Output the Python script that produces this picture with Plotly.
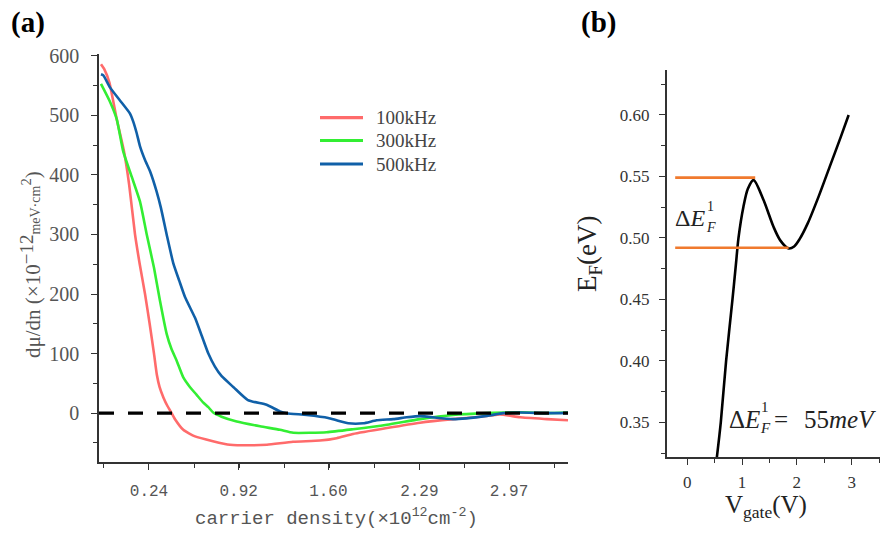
import plotly.graph_objects as go

W, H = 880, 533

# ---------------- Panel (a) data ----------------
series_names = ["100kHz", "300kHz", "500kHz"]
series_colors = ["#FF6B6B", "#33EE33", "#1060A8"]

red_x = [-0.124, -0.10, -0.06, -0.005, 0.05, 0.09, 0.134, 0.17, 0.21, 0.245, 0.278, 0.30, 0.32, 0.35,
         0.38, 0.412, 0.44, 0.50, 0.589, 0.725, 0.854, 1.0, 1.135, 1.332, 1.536, 1.663, 1.787,
         2.044, 2.295, 2.545, 2.75, 2.901, 3.053, 3.257, 3.417]
red_y = [586, 578, 555, 494, 440, 383, 300, 250, 200, 150, 100, 64, 44, 26,
         12, 0, -11, -28, -39, -47, -53, -54, -53, -48, -46, -42, -35,
         -25, -16, -10, -6, -2, -7, -10, -12]

green_x = [-0.124, -0.06, -0.005, 0.045, 0.109, 0.172, 0.223, 0.278, 0.323, 0.374, 0.41, 0.45, 0.50,
           0.55, 0.60, 0.65, 0.69, 0.727, 0.79, 0.905, 1.082, 1.233, 1.334, 1.587, 1.787, 2.044,
           2.295, 2.545, 2.803, 3.053, 3.257, 3.417]
green_y = [553, 525, 494, 439, 397, 355, 300, 244, 189, 133, 108, 88, 60,
           44, 31, 18, 10, 1, -6, -14, -22, -28, -33, -32, -27, -19.5,
           -10, -3, 0, 1.5, 0, 1]

blue_x = [-0.124, -0.106, -0.056, 0.02, 0.096, 0.12, 0.147, 0.172, 0.21, 0.25, 0.298, 0.33, 0.374,
          0.424, 0.47, 0.513, 0.589, 0.64, 0.69, 0.74, 0.791, 0.879, 0.99, 1.132, 1.233, 1.284,
          1.436, 1.599, 1.663, 1.751, 1.865, 1.966, 2.092, 2.194, 2.295, 2.545, 2.803, 2.924,
          3.053, 3.257, 3.417]
blue_y = [569, 567, 547, 525, 503, 490, 470, 448, 425, 405, 372, 345, 300,
          252, 222, 195, 160, 130, 100, 78, 62, 44, 22, 14, 3, 0,
          -3, -8, -12, -17, -17, -12, -10, -7, -5, -10, -4.5, 0,
          1, 0, 0.5]

xa_ticklabels = ["0.24", "0.92", "1.60", "2.29", "2.97"]
ya_ticks = [0, 100, 200, 300, 400, 500, 600]

# ---------------- Panel (b) data ----------------
vgate = [0.54, 0.612, 0.709, 0.825, 0.887, 0.935, 1.026, 1.106, 1.21, 1.39, 1.574, 1.697, 1.85,
         1.95, 2.05, 2.2, 2.4, 2.6, 2.8, 2.945]
ef = [0.3215, 0.35, 0.40, 0.45, 0.478, 0.50, 0.5256, 0.54, 0.547, 0.531, 0.509, 0.498, 0.4914,
      0.493, 0.499, 0.512, 0.534, 0.558, 0.582, 0.60]
level_y = [0.549, 0.492]
level_x0 = [-0.22, -0.22]
level_x1 = [1.24, 1.85]
xb_ticks = [0, 1, 2, 3]
yb_ticks = [0.35, 0.40, 0.45, 0.50, 0.55, 0.60]

fig = go.Figure()

for name, col, xs, ys in zip(series_names, series_colors,
                             [red_x, green_x, blue_x], [red_y, green_y, blue_y]):
    fig.add_trace(go.Scatter(x=xs, y=ys, mode="lines", name=name,
                             line=dict(color=col, width=2.6, shape="spline", smoothing=0.5),
                             xaxis="x", yaxis="y", showlegend=False))

fig.add_trace(go.Scatter(x=vgate, y=ef, mode="lines",
                         line=dict(color="black", width=2.6, shape="spline", smoothing=0.8),
                         showlegend=False, xaxis="x2", yaxis="y2"))
for ly, lx0, lx1 in zip(level_y, level_x0, level_x1):
    fig.add_trace(go.Scatter(x=[lx0, lx1], y=[ly, ly], mode="lines",
                             line=dict(color="#F07A2E", width=2.6),
                             showlegend=False, xaxis="x2", yaxis="y2"))

# zero dashed line
fig.add_shape(type="line", xref="x domain", yref="y", x0=0, x1=1, y0=0, y1=0,
              line=dict(color="black", width=3.2, dash="15px,14px"))


def px_x(p):
    return p / W


def px_y(p):
    return (H - p) / H


# manual legend (sample lines + labels)
leg_rows = [117.7, 140.5, 164]
for name, col, ry in zip(series_names, series_colors, leg_rows):
    fig.add_shape(type="line", xref="paper", yref="paper", x0=px_x(320), x1=px_x(363),
                  y0=px_y(ry), y1=px_y(ry), line=dict(color=col, width=3.2))
    fig.add_annotation(xref="paper", yref="paper", x=px_x(374), y=px_y(ry), xanchor="left",
                       yanchor="middle", showarrow=False, text=name,
                       font=dict(family="Liberation Serif", size=19, color="#444"))

axis_common = dict(showgrid=False, zeroline=False, showline=True, linecolor="#333",
                   linewidth=1.6, ticks="outside", ticklen=6, tickwidth=1.4, tickcolor="#333",
                   automargin=False)

fig.update_layout(
    width=W, height=H, margin=dict(l=0, r=0, t=0, b=0),
    plot_bgcolor="white", paper_bgcolor="white",
    xaxis=dict(domain=[px_x(99), px_x(568)], range=[-0.139, 3.417], anchor="y",
               tickvals=[float(t) for t in xa_ticklabels], ticktext=xa_ticklabels,
               tickfont=dict(family="Liberation Mono", size=16, color="#555"),
               minor=dict(tick0=0.24 - 0.3413, dtick=0.3413, ticks="outside", ticklen=4,
                          tickwidth=1.3, tickcolor="#333"),
               ticklabelstandoff=7, **axis_common),
    yaxis=dict(domain=[px_y(462), px_y(54)], range=[-82, 603], anchor="x",
               tickvals=ya_ticks,
               tickfont=dict(family="Liberation Serif", size=20, color="#555"),
               minor=dict(tick0=-50, dtick=100, ticks="outside", ticklen=4,
                          tickwidth=1.3, tickcolor="#333"),
               ticklabelstandoff=8, **axis_common),
    xaxis2=dict(domain=[px_x(666.7), 1.0], range=[-0.375, 3.517], anchor="y2",
                tickvals=xb_ticks,
                tickfont=dict(family="Liberation Serif", size=17, color="#333"),
                minor=dict(dtick=0.5, ticks="outside", ticklen=4, tickwidth=1.3, tickcolor="#333"),
                ticklabelstandoff=2, **axis_common),
    yaxis2=dict(domain=[px_y(457.3), px_y(70)], range=[0.3215, 0.6366], anchor="x2",
                tickvals=yb_ticks, tickformat=".2f",
                tickfont=dict(family="Liberation Serif", size=17, color="#333"),
                minor=dict(dtick=0.025, tick0=0.325, ticks="outside", ticklen=4,
                           tickwidth=1.3, tickcolor="#333"),
                ticklabelstandoff=6, **axis_common),
    showlegend=False,
)

serif = "Liberation Serif"
ann = [
    dict(text="<b>(a)</b>", x=px_x(28), y=px_y(22), font=dict(family=serif, size=29, color="black")),
    dict(text="<b>(b)</b>", x=px_x(598), y=px_y(23), font=dict(family=serif, size=29, color="black")),
    dict(text="dμ/dn (×10<span style='baseline-shift:35%;font-size:19px'>−12</span>"
              "<span style='font-size:14px'>meV·cm</span><sup>2</sup>)",
         x=px_x(30), y=px_y(265), textangle=-90, font=dict(family=serif, size=21, color="#555")),
    dict(text="carrier density(×10<sup>12</sup>cm<sup>-2</sup>)", x=px_x(336), y=px_y(517),
         font=dict(family="Liberation Mono", size=19, color="#555")),
    dict(text="E<sub>F</sub>(eV)", x=px_x(589), y=px_y(254), textangle=-90,
         font=dict(family=serif, size=27, color="#222")),
    dict(text="V<sub>gate</sub>(V)", x=px_x(766), y=px_y(506),
         font=dict(family=serif, size=25, color="#222")),
    # ΔE_F^1 labels
    dict(text="Δ<i>E</i>", x=px_x(673), y=px_y(218), xanchor="left",
         font=dict(family=serif, size=24, color="#222")),
    dict(text="1", x=px_x(705), y=px_y(207), xanchor="left",
         font=dict(family=serif, size=14, color="#222")),
    dict(text="<i>F</i>", x=px_x(704), y=px_y(227), xanchor="left",
         font=dict(family=serif, size=14, color="#222")),
    dict(text="Δ<i>E</i>", x=px_x(727), y=px_y(419), xanchor="left",
         font=dict(family=serif, size=25, color="#222")),
    dict(text="1", x=px_x(759), y=px_y(407), xanchor="left",
         font=dict(family=serif, size=15, color="#222")),
    dict(text="<i>F</i>", x=px_x(758), y=px_y(428), xanchor="left",
         font=dict(family=serif, size=15, color="#222")),
    dict(text="=", x=px_x(772), y=px_y(419), xanchor="left",
         font=dict(family=serif, size=25, color="#222")),
    dict(text="55<i>meV</i>", x=px_x(802), y=px_y(419), xanchor="left",
         font=dict(family=serif, size=25, color="#222")),
]
for a in ann:
    a.setdefault("xanchor", "center")
    fig.add_annotation(xref="paper", yref="paper", showarrow=False, yanchor="middle", **a)

fig.write_html("out.html")
